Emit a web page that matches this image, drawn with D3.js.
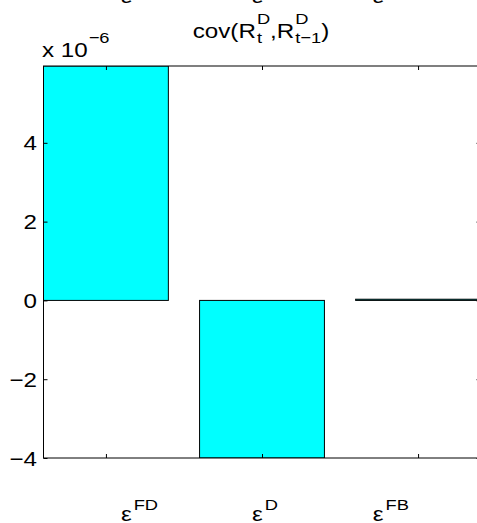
<!DOCTYPE html>
<html>
<head>
<meta charset="utf-8">
<script src="https://cdn.jsdelivr.net/npm/d3@7"></script>
<style>
  html, body { margin: 0; padding: 0; background: #fff; overflow: hidden; }
  svg { display: block; }
  text { font-family: "Liberation Sans", Arial, Helvetica, sans-serif; fill: #000; }
</style>
</head>
<body>
<svg id="chart" width="477" height="523"></svg>
<script>
// Shock names (superscripts of epsilon) and covariance values, in units of 1e-6
const shocks = ["FD", "D", "FB"];
const covValues = [5.95, -4.0, 0.03];
const yTickValues = [-4, -2, 0, 2, 4];
const yLimits = [-4, 5.95];
const exponentLabel = "−6";

const margin = { left: 43.5, top: 66, bottom: 458, right: 480.5 };
const fs = 20.5;    // base font size
const fss = 15.5;   // script font size
const sx = 1.18;    // horizontal stretch of the text

const svg = d3.select("#chart");

const x = d3.scaleLinear().domain([0.6, 3.4]).range([margin.left, margin.right]);
const y = d3.scaleLinear().domain(yLimits).range([margin.bottom, margin.top]);
const barW = x(1.4) - x(0.6);

// clip to the axes box
svg.append("defs").append("clipPath").attr("id", "ax")
  .append("rect")
  .attr("x", margin.left).attr("y", margin.top)
  .attr("width", margin.right - margin.left).attr("height", margin.bottom - margin.top);

// bars
svg.append("g").attr("clip-path", "url(#ax)")
  .selectAll("rect").data(covValues).enter().append("rect")
  .attr("x", (d, i) => x(i + 1) - barW / 2)
  .attr("width", barW)
  .attr("y", d => y(Math.max(0, d)))
  .attr("height", d => Math.abs(y(d) - y(0)))
  .attr("fill", "#00ffff")
  .attr("stroke", "#000")
  .attr("stroke-width", 1);

// axes box
svg.append("rect")
  .attr("fill", "none").attr("stroke", "#000").attr("stroke-width", 1)
  .attr("x", margin.left).attr("y", margin.top)
  .attr("width", margin.right - margin.left).attr("height", margin.bottom - margin.top);

// ticks pointing inward on all four sides
const tl = 4;
const yAxisL = d3.axisRight(y).tickValues(yTickValues).tickSize(tl).tickFormat("");
const yAxisR = d3.axisLeft(y).tickValues(yTickValues).tickSize(tl).tickFormat("");
const xAxisB = d3.axisTop(x).tickValues([1, 2, 3]).tickSize(tl).tickFormat("");
const xAxisT = d3.axisBottom(x).tickValues([1, 2, 3]).tickSize(tl).tickFormat("");
[[yAxisL, `translate(${margin.left},0)`], [yAxisR, `translate(${margin.right},0)`],
 [xAxisB, `translate(0,${margin.bottom})`], [xAxisT, `translate(0,${margin.top})`]]
  .forEach(([ax, tr]) => {
    const g = svg.append("g").attr("transform", tr).call(ax);
    g.select(".domain").remove();
    g.selectAll("line").attr("stroke", "#000");
  });

// text helper: horizontally stretched text at (px, py)
function txt(px, py, str, size, anchor) {
  return svg.append("text")
    .attr("transform", `translate(${px},${py}) scale(${sx},1)`)
    .attr("text-anchor", anchor || "start")
    .attr("font-size", size)
    .text(str);
}
const width = sel => sel.node().getComputedTextLength() * sx;

// y tick labels
yTickValues.forEach(v => {
  txt(37, y(v) + 7.5, v < 0 ? "−" + Math.abs(v) : String(v), fs, "end");
});

// exponent
const ex = txt(42, 57, "x 10", fs);
txt(42 + width(ex) + 1, 43, exponentLabel, fss);

// title: cov(R_t^D, R_{t-1}^D), laid out piece by piece, centred over the axes
function title(cx, base) {
  const parts = [
    { s: "cov(R", main: true },
    { sub: "t", sup: "D" },
    { s: ",R", main: true },
    { sub: "t−1", sup: "D" },
    { s: ")", main: true }
  ];
  // measure first
  const tmp = [];
  let total = 0;
  parts.forEach(p => {
    if (p.main) {
      const t = txt(0, -100, p.s, fs); p.w = width(t); t.remove();
    } else {
      const a = txt(0, -100, p.sub, fss), b = txt(0, -100, p.sup, fss);
      p.w = Math.max(width(a), width(b)) + 1; a.remove(); b.remove();
    }
    total += p.w;
  });
  let cur = cx - total / 2;
  parts.forEach(p => {
    if (p.main) txt(cur, base, p.s, fs);
    else {
      txt(cur + 1, base + 5, p.sub, fss);
      txt(cur + 1, base - 14, p.sup, fss);
    }
    cur += p.w;
  });
}
title(261, 38);

// epsilon labels below the axes, and those of the panel above (cut at the top)
const labelPos = [1.096, 1.936, 2.71];
shocks.forEach((s, i) => {
  const lx = x(labelPos[i]);
  const e = txt(lx, 521, "ε", fs);
  txt(lx + width(e) + 2, 510, s, fss);
  txt(lx, 3, "ε", fs);
});
</script>
</body>
</html>
